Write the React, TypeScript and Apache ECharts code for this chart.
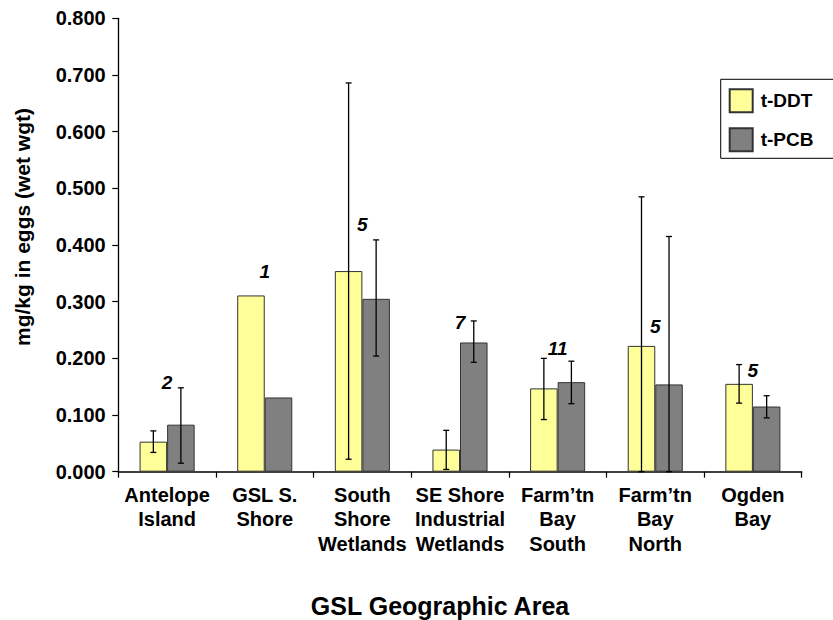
import React, { useEffect, useRef } from "react";
import * as echarts from "echarts";

const categories = [
  "Antelope\nIsland",
  "GSL S.\nShore",
  "South\nShore\nWetlands",
  "SE Shore\nIndustrial\nWetlands",
  "Farm’tn\nBay\nSouth",
  "Farm’tn\nBay\nNorth",
  "Ogden\nBay",
];
const ddtValues = [0.053, 0.311, 0.354, 0.039, 0.147, 0.222, 0.155];
const pcbValues = [0.083, 0.131, 0.305, 0.228, 0.158, 0.154, 0.115];
const ddtLow = [0.034, null, 0.022, 0.004, 0.092, 0.0, 0.121];
const ddtHigh = [0.072, null, 0.686, 0.073, 0.2, 0.485, 0.189];
const pcbLow = [0.015, null, 0.204, 0.193, 0.12, 0.0, 0.095];
const pcbHigh = [0.148, null, 0.409, 0.266, 0.195, 0.415, 0.134];
const sampleCounts = ["2", "1", "5", "7", "11", "5", "5"];
const sampleLabelLevel = [0.157, 0.354, 0.437, 0.263, 0.217, 0.257, 0.178];
const yTickMin = 0;
const yTickMax = 0.8;
const yTickStep = 0.1;

const FONT = "'Liberation Sans', Arial, Helvetica, sans-serif";

function errorData(low: (number | null)[], high: (number | null)[]) {
  const out: number[][] = [];
  low.forEach((l, i) => {
    const h = high[i];
    if (l !== null && h !== null) out.push([i, l, h]);
  });
  return out;
}

function makeErrorRenderer(offsetFrac: number) {
  return (params: any, api: any) => {
    const idx = api.value(0);
    const band = api.size([1, 0])[0];
    const x = api.coord([idx, 0])[0] + offsetFrac * band;
    const yLow = api.coord([idx, api.value(1)])[1];
    const yHigh = api.coord([idx, api.value(2)])[1];
    const cap = 3;
    const style = { stroke: "#000", lineWidth: 1.3 };
    return {
      type: "group",
      children: [
        { type: "line", shape: { x1: x, y1: yLow, x2: x, y2: yHigh }, style },
        { type: "line", shape: { x1: x - cap, y1: yHigh, x2: x + cap, y2: yHigh }, style },
        { type: "line", shape: { x1: x - cap, y1: yLow, x2: x + cap, y2: yLow }, style },
      ],
    };
  };
}

export default function App() {
  const ref = useRef<HTMLDivElement>(null);
  useEffect(() => {
    if (!ref.current) return;
    const chart = echarts.init(ref.current, undefined, { renderer: "svg" });
    const barGapFrac = 0.436;
    const halfBar = (1 - barGapFrac) / 4;
    chart.setOption({
      animation: false,
      backgroundColor: "#fff",
      textStyle: { fontFamily: FONT },
      grid: { left: 118.3, right: 31.3, top: 18.3, bottom: 148.3, containLabel: false },
      legend: {
        data: ["t-DDT", "t-PCB"],
        orient: "vertical",
        left: 720.7,
        top: 79.3,
        itemWidth: 23,
        itemHeight: 23,
        itemGap: 14,
        padding: [9, 60, 6, 8],
        borderColor: "#000",
        borderWidth: 1,
        backgroundColor: "#fff",
        icon: "rect",
        textStyle: {
          fontFamily: FONT,
          fontSize: 19,
          fontWeight: "bold",
          color: "#000",
          padding: [0, 0, 0, 3],
        },
      },
      xAxis: {
        type: "category",
        data: categories,
        axisLine: { lineStyle: { color: "#000", width: 1.5 } },
        axisTick: { show: true, length: 6, lineStyle: { color: "#000", width: 1.2 } },
        axisLabel: {
          interval: 0,
          margin: 11,
          fontFamily: FONT,
          fontSize: 20,
          fontWeight: "bold",
          color: "#000",
          lineHeight: 24.5,
          align: "center",
        },
        splitLine: { show: false },
      },
      yAxis: {
        type: "value",
        min: yTickMin,
        max: yTickMax,
        interval: yTickStep,
        axisLine: { show: true, lineStyle: { color: "#000", width: 1.3 } },
        axisTick: { show: true, length: 6, lineStyle: { color: "#000", width: 1.2 } },
        axisLabel: {
          margin: 12.6,
          fontFamily: FONT,
          fontSize: 20,
          fontWeight: "bold",
          color: "#000",
          formatter: (v: number) => v.toFixed(3),
        },
        splitLine: { show: false },
      },
      graphic: [
        {
          type: "text",
          x: 22,
          y: 227,
          rotation: Math.PI / 2,
          style: {
            text: "mg/kg in eggs (wet wgt)",
            fontFamily: FONT,
            fontSize: 21,
            fontWeight: "bold",
            fill: "#000",
            textAlign: "center",
            textVerticalAlign: "middle",
          },
        },
        {
          type: "text",
          x: 440,
          y: 606,
          style: {
            text: "GSL Geographic Area",
            fontFamily: FONT,
            fontSize: 25,
            fontWeight: "bold",
            fill: "#000",
            textAlign: "center",
            textVerticalAlign: "middle",
          },
        },
      ],
      series: [
        {
          name: "t-DDT",
          type: "bar",
          data: ddtValues,
          barGap: "0%",
          barCategoryGap: barGapFrac * 100 + "%",
          itemStyle: { color: "#FFFF99", borderColor: "#333", borderWidth: 1 },
          z: 2,
        },
        {
          name: "t-PCB",
          type: "bar",
          data: pcbValues,
          barGap: "0%",
          barCategoryGap: barGapFrac * 100 + "%",
          itemStyle: { color: "#808080", borderColor: "#333", borderWidth: 1 },
          z: 2,
        },
        {
          name: "ddtErr",
          type: "custom",
          data: errorData(ddtLow, ddtHigh),
          renderItem: makeErrorRenderer(-halfBar),
          encode: { x: 0, y: [1, 2] },
          z: 5,
          silent: true,
        },
        {
          name: "pcbErr",
          type: "custom",
          data: errorData(pcbLow, pcbHigh),
          renderItem: makeErrorRenderer(halfBar),
          encode: { x: 0, y: [1, 2] },
          z: 5,
          silent: true,
        },
        {
          name: "n",
          type: "scatter",
          data: sampleLabelLevel.map((v, i) => [i, v]),
          symbolSize: 1,
          itemStyle: { color: "rgba(255,255,255,0)" },
          label: {
            show: true,
            position: "inside",
            formatter: (p: any) => sampleCounts[p.dataIndex],
            fontFamily: FONT,
            fontSize: 19,
            fontWeight: "bold",
            fontStyle: "italic",
            color: "#000",
            opacity: 1,
            textBorderWidth: 0,
            textBorderColor: "transparent",
          },
          z: 6,
          silent: true,
        },
      ],
    });
    return () => chart.dispose();
  }, []);
  return (
    <div
      ref={ref}
      style={{ position: "fixed", left: 0, top: 0, width: 833, height: 620 }}
    />
  );
}
